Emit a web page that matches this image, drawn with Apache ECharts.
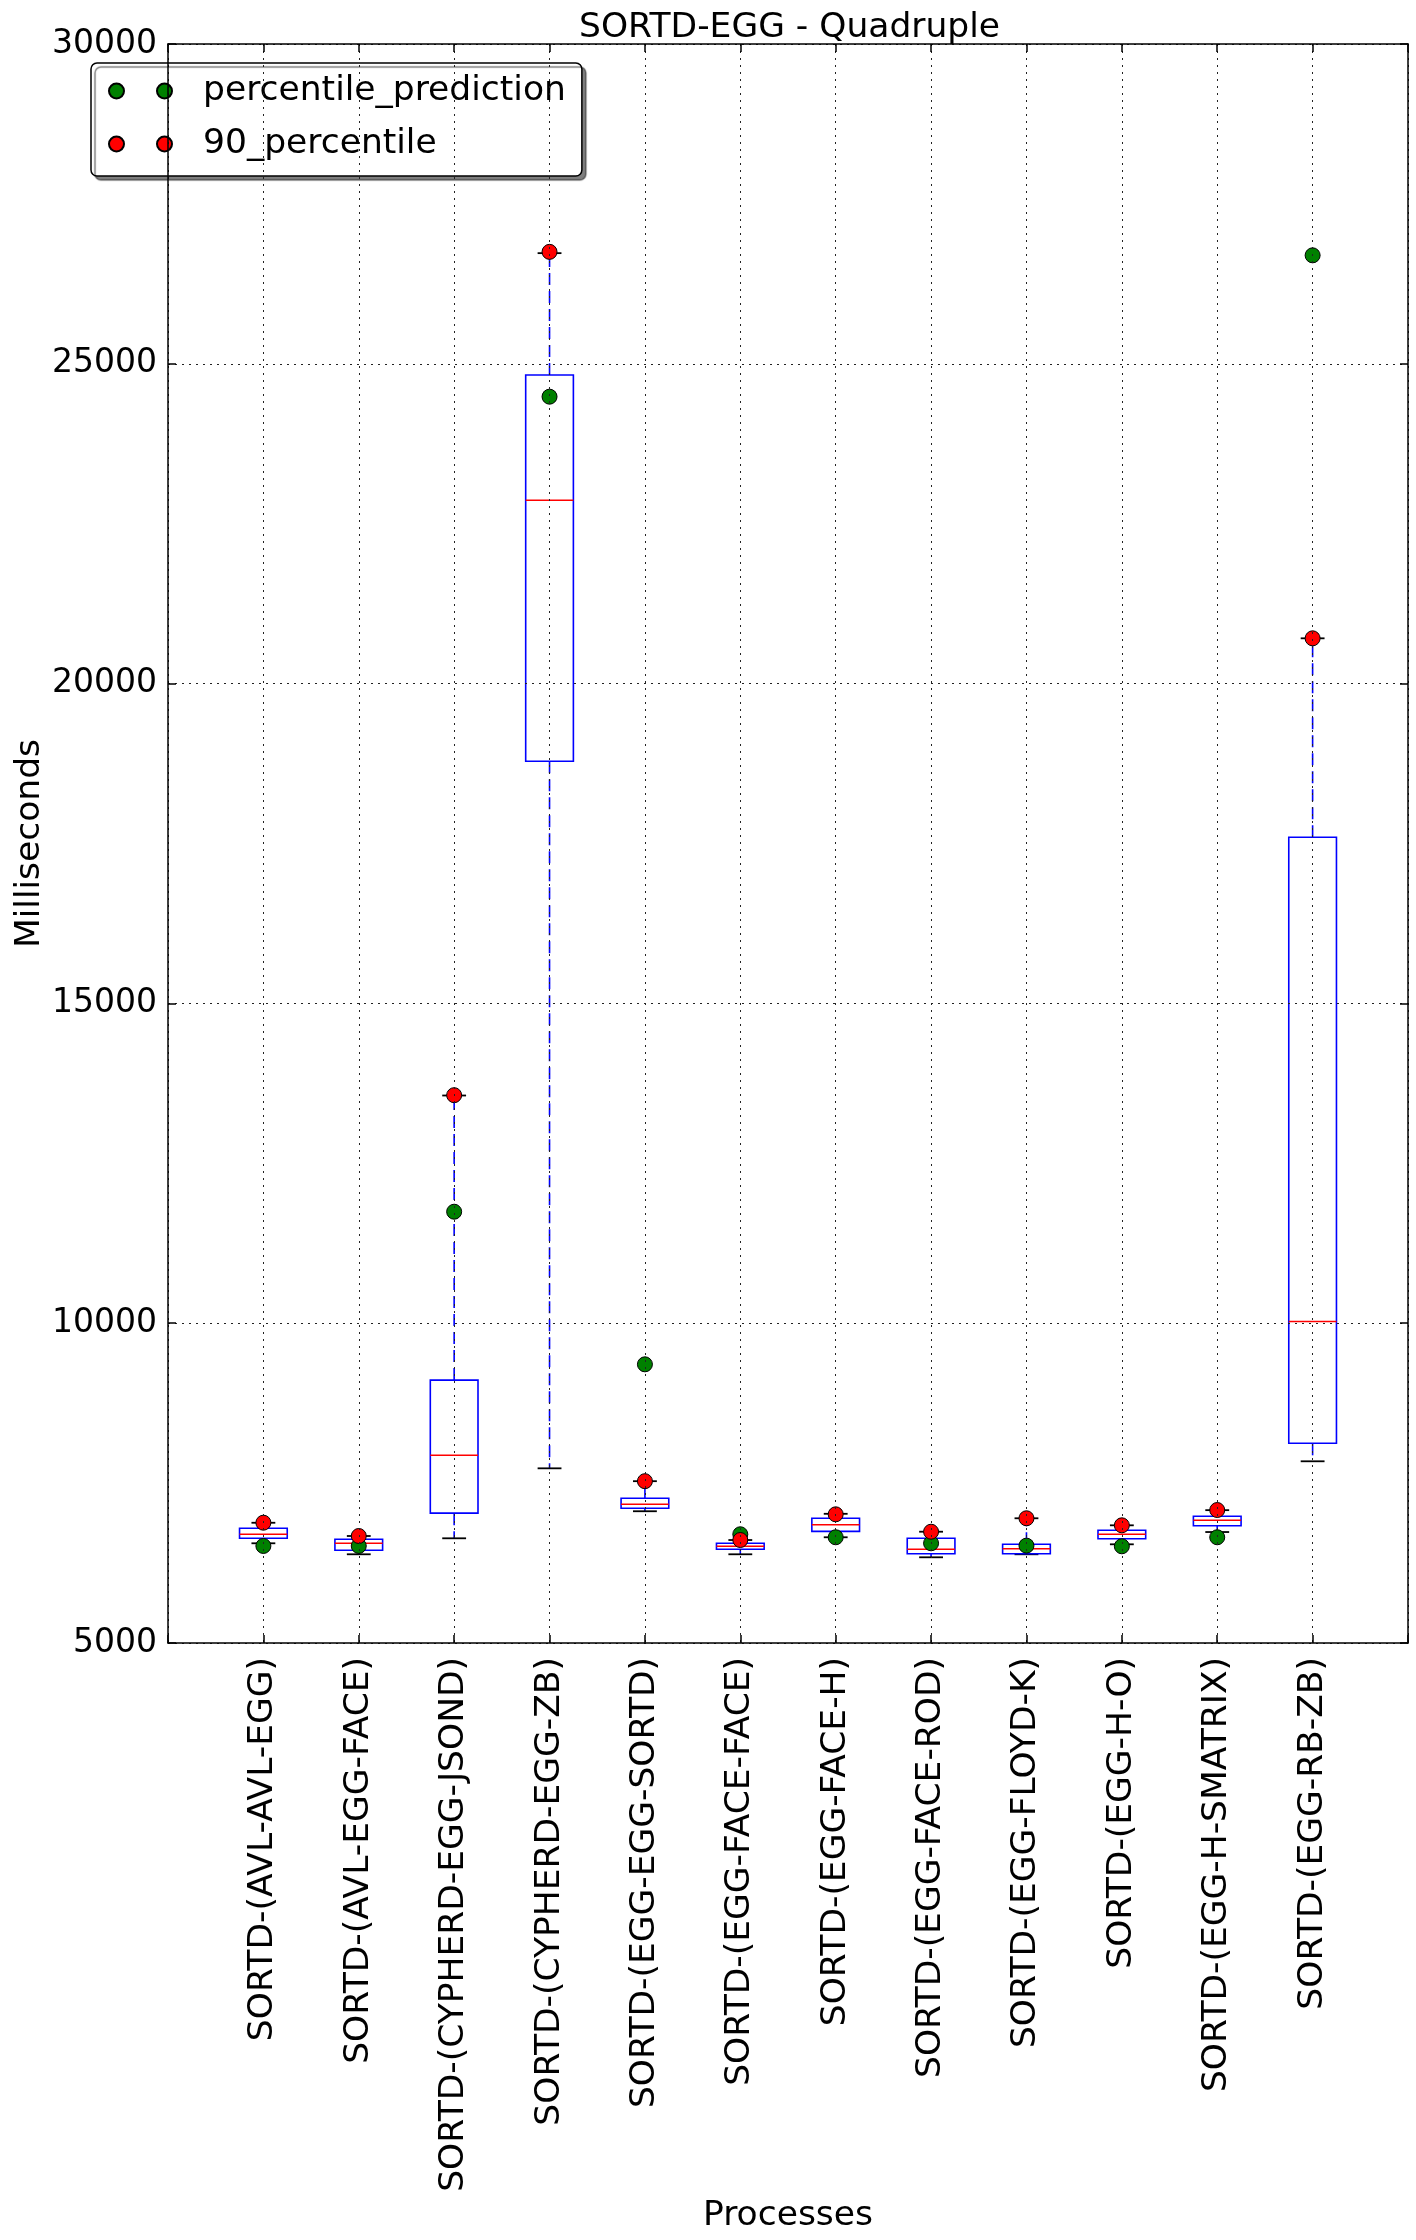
<!DOCTYPE html>
<html>
<head>
<meta charset="utf-8">
<script src="https://cdn.jsdelivr.net/npm/echarts@6/dist/echarts.min.js"></script>
<style>
html,body{margin:0;padding:0;background:#fff;}
#chart{width:1416px;height:2240px;}
</style>
</head>
<body>
<div id="chart"></div>
<script>
const categories = [
  'SORTD-(AVL-AVL-EGG)', 'SORTD-(AVL-EGG-FACE)', 'SORTD-(CYPHERD-EGG-JSOND)',
  'SORTD-(CYPHERD-EGG-ZB)', 'SORTD-(EGG-EGG-SORTD)', 'SORTD-(EGG-FACE-FACE)',
  'SORTD-(EGG-FACE-H)', 'SORTD-(EGG-FACE-ROD)', 'SORTD-(EGG-FLOYD-K)',
  'SORTD-(EGG-H-O)', 'SORTD-(EGG-H-SMATRIX)', 'SORTD-(EGG-RB-ZB)'
];
const whiskerLow  = [6559, 6387, 6637, 7731, 7060, 6387, 6653, 6340, 6387, 6543, 6735, 7841];
const q1          = [6637, 6449, 7030, 18785, 7106, 6465, 6746, 6396, 6396, 6631, 6834, 8122];
const median      = [6699, 6559, 7935, 22866, 7170, 6512, 6850, 6465, 6475, 6700, 6918, 10025];
const q3          = [6793, 6621, 9110, 24825, 7262, 6559, 6950, 6637, 6543, 6762, 6981, 17597];
const whiskerHigh = [6880, 6673, 13560, 26730, 7530, 6610, 7020, 6740, 6950, 6840, 7077, 20708];
const percentilePrediction = [6517, 6517, 11743, 24486, 9357, 6700, 6653, 6559, 6522, 6512, 6653, 26696];
const percentile90 = [6881, 6673, 13565, 26750, 7530, 6610, 7012, 6740, 6950, 6840, 7079, 20708];
const yTicks = [5000, 10000, 15000, 20000, 25000, 30000];

const FONT = 'DejaVu Sans';
const FS = 34.5;
const chart = echarts.init(document.getElementById('chart'), null, {renderer: 'canvas'});

const boxData = categories.map((c, i) => [i + 1, whiskerLow[i], q1[i], median[i], q3[i], whiskerHigh[i]]);
const predData = categories.map((c, i) => [i + 1, percentilePrediction[i]]);
const p90Data = categories.map((c, i) => [i + 1, percentile90[i]]);

const gridSplit = {show: true, lineStyle: {color: '#222', width: 1, type: [2, 5]}};
const frameLine = {show: true, onZero: false, lineStyle: {color: '#000', width: 1.5}};
const innerTick = {show: true, inside: true, length: 8, lineStyle: {color: '#000', width: 1.5}};

const twoDots = 'path://M0,7.5a7.5,7.5 0 1,0 15,0a7.5,7.5 0 1,0 -15,0z M48,7.5a7.5,7.5 0 1,0 15,0a7.5,7.5 0 1,0 -15,0z';

chart.setOption({
  animation: false,
  backgroundColor: '#fff',
  textStyle: {fontFamily: FONT},
  title: {
    text: 'SORTD-EGG - Quadruple',
    left: 574, top: 6,
    textStyle: {fontFamily: FONT, fontSize: FS, fontWeight: 'normal', color: '#000'}
  },
  legend: {
    orient: 'vertical',
    left: 91, top: 63,
    padding: [8, 16, 12, 17],
    itemGap: 13,
    itemWidth: 63, itemHeight: 15,
    icon: twoDots,
    backgroundColor: '#fff',
    borderColor: '#000', borderWidth: 1.5, borderRadius: 6,
    shadowColor: 'rgba(0,0,0,0.5)', shadowBlur: 1, shadowOffsetX: 4, shadowOffsetY: 4,
    textStyle: {fontFamily: FONT, fontSize: FS, color: '#000', lineHeight: 40, padding: [0, 0, 0, 26]},
    data: ['percentile_prediction', '90_percentile']
  },
  grid: {left: 168, right: 8, top: 44, bottom: 597, containLabel: false, outerBoundsMode: 'none'},
  xAxis: [{
    type: 'value', min: 0, max: 13, interval: 1, z: 10,
    name: 'Processes', nameLocation: 'middle', nameGap: 556, nameMoveOverlap: false,
    nameTextStyle: {fontFamily: FONT, fontSize: FS, color: '#000'},
    axisLine: frameLine,
    axisTick: innerTick,
    axisLabel: {
      rotate: 90, margin: 14, fontFamily: FONT, fontSize: FS, color: '#000',
      formatter: v => categories[v - 1] || ''
    },
    splitLine: gridSplit
  }, {
    type: 'value', position: 'top', min: 0, max: 13, interval: 1, z: 10,
    axisLine: frameLine,
    axisTick: innerTick,
    axisLabel: {show: false},
    splitLine: {show: false}
  }],
  yAxis: [{
    type: 'value', min: yTicks[0], max: yTicks[yTicks.length - 1], interval: 5000, z: 10,
    name: 'Milliseconds', nameLocation: 'middle', nameGap: 120, nameRotate: 90, nameMoveOverlap: false,
    nameTextStyle: {fontFamily: FONT, fontSize: FS, color: '#000'},
    axisLine: frameLine,
    axisTick: innerTick,
    axisLabel: {margin: 11, fontFamily: FONT, fontSize: 33, color: '#000', formatter: v => String(v)},
    splitLine: gridSplit
  }, {
    type: 'value', position: 'right', min: yTicks[0], max: yTicks[yTicks.length - 1], interval: 5000, z: 10,
    axisLine: frameLine,
    axisTick: innerTick,
    axisLabel: {show: false},
    splitLine: {show: false}
  }],
  series: [{
    type: 'custom',
    name: 'box',
    xAxisIndex: 0, yAxisIndex: 0,
    encode: {x: 0, y: [1, 2, 3, 4, 5]},
    data: boxData,
    z: 2,
    renderItem: function (params, api) {
      const x = api.value(0);
      const lo = api.coord([x, api.value(1)]);
      const b1 = api.coord([x, api.value(2)]);
      const md = api.coord([x, api.value(3)]);
      const b3 = api.coord([x, api.value(4)]);
      const hi = api.coord([x, api.value(5)]);
      const bw = api.size([0.5, 0])[0];
      const cw = bw / 2;
      const cx = lo[0];
      const dash = {stroke: '#0000ff', lineWidth: 1.6, lineDash: [12, 6]};
      return {
        type: 'group',
        children: [
          {type: 'line', shape: {x1: cx, y1: b3[1], x2: cx, y2: hi[1]}, style: dash},
          {type: 'line', shape: {x1: cx, y1: b1[1], x2: cx, y2: lo[1]}, style: dash},
          {type: 'line', shape: {x1: cx - cw / 2, y1: hi[1], x2: cx + cw / 2, y2: hi[1]}, style: {stroke: '#000', lineWidth: 1.8}},
          {type: 'line', shape: {x1: cx - cw / 2, y1: lo[1], x2: cx + cw / 2, y2: lo[1]}, style: {stroke: '#000', lineWidth: 1.8}},
          {type: 'rect', shape: {x: cx - bw / 2, y: b3[1], width: bw, height: b1[1] - b3[1]}, style: {fill: 'none', stroke: '#0000ff', lineWidth: 1.6}},
          {type: 'line', shape: {x1: cx - bw / 2, y1: md[1], x2: cx + bw / 2, y2: md[1]}, style: {stroke: '#ff0000', lineWidth: 1.5}}
        ]
      };
    }
  }, {
    type: 'scatter',
    name: 'percentile_prediction',
    data: predData,
    symbol: 'circle', symbolSize: 15,
    itemStyle: {color: '#008000', borderColor: '#000', borderWidth: 1, opacity: 1},
    z: 3
  }, {
    type: 'scatter',
    name: '90_percentile',
    data: p90Data,
    symbol: 'circle', symbolSize: 15,
    itemStyle: {color: '#ff0000', borderColor: '#000', borderWidth: 1, opacity: 1},
    z: 4
  }]
});
</script>
</body>
</html>
